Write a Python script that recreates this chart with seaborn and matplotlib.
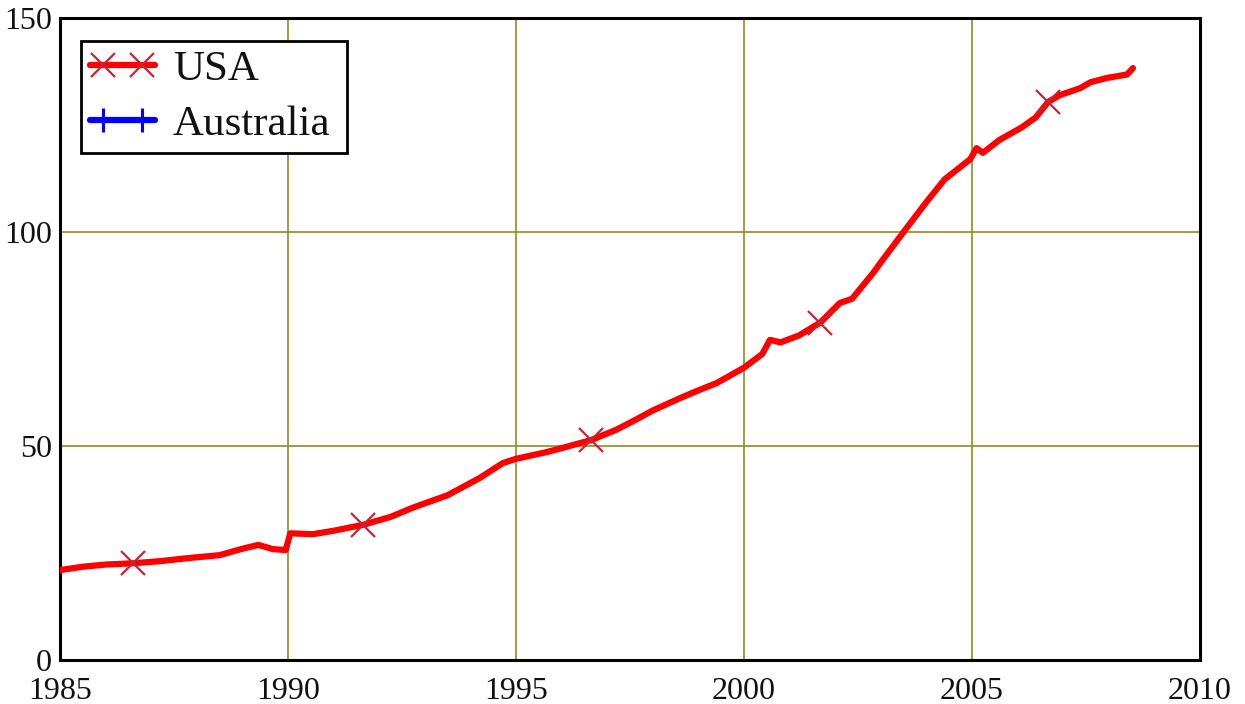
import numpy as np
import pandas as pd
import matplotlib
matplotlib.use("Agg")
import matplotlib.pyplot as plt
from matplotlib.legend_handler import HandlerLine2DCompound
import seaborn as sns

# Index series (USA), read at irregular dates
usa_year = [1985.0, 1985.5, 1986.0, 1986.6, 1987.2, 1987.8, 1988.5, 1989.0, 1989.35,
            1989.67, 1989.95, 1990.05, 1990.55, 1991.0, 1991.65, 1992.24, 1992.74,
            1993.0, 1993.5, 1994.2, 1994.71, 1995.0, 1995.68, 1996.0, 1996.65, 1997.2,
            1997.6, 1998.0, 1998.6, 1999.0, 1999.4, 2000.0, 2000.4, 2000.57, 2000.8,
            2001.2, 2001.67, 2002.1, 2002.37, 2002.83, 2003.0, 2003.5, 2004.0, 2004.4,
            2004.96, 2005.1, 2005.24, 2005.6, 2006.1, 2006.4, 2006.67, 2006.93,
            2007.37, 2007.6, 2007.96, 2008.4, 2008.53]
usa_value = [21.0, 21.8, 22.3, 22.6, 23.1, 23.8, 24.5, 26.0, 26.9,
             25.9, 25.7, 29.6, 29.4, 30.2, 31.6, 33.4, 35.6,
             36.6, 38.5, 42.5, 46.0, 47.0, 48.6, 49.5, 51.4, 53.8,
             56.0, 58.3, 61.2, 63.0, 64.7, 68.3, 71.5, 74.8, 74.2,
             75.8, 78.8, 83.4, 84.4, 90.4, 92.9, 100.0, 107.0, 112.3,
             117.0, 119.6, 118.5, 121.5, 124.5, 126.8, 130.4, 132.0,
             133.6, 135.0, 136.0, 136.8, 138.3]
usa_marker_years = [1986.6, 1991.65, 1996.65, 2001.67, 2006.67]

# Australia series has no points inside the plotted window
aus_year = []
aus_value = []

x_ticks = [1985, 1990, 1995, 2000, 2005, 2010]
y_ticks = [0, 50, 100, 150]


class InsetMarkerHandler(HandlerLine2DCompound):
    """Legend line spanning the full handle, with two markers set inward."""

    def get_xdata(self, legend, xdescent, ydescent, width, height, fontsize):
        xdata = np.array([-xdescent, -xdescent + width])
        inset = 0.2 * width
        xmark = np.linspace(-xdescent + inset, -xdescent + width - inset, 2)
        return xdata, xmark

    def create_artists(self, *args, **kwargs):
        artists = super().create_artists(*args, **kwargs)
        for a in artists:
            a.set_markevery(None)
        return artists


sns.set_style("white")
plt.rcParams["font.family"] = ["Liberation Serif", "DejaVu Serif"]

fig = plt.figure(figsize=(12.45, 7.04), dpi=100)
ax = fig.add_axes([60 / 1245, 1 - 660 / 704, 1140 / 1245, 642 / 704])

df = pd.DataFrame({"year": usa_year, "value": usa_value})
mark_idx = [int(np.argmin(np.abs(np.array(usa_year) - m))) for m in usa_marker_years]

sns.lineplot(data=df, x="year", y="value", ax=ax, color="#ff0000", linewidth=4.5,
             marker="x", markevery=mark_idx, markersize=17, markeredgewidth=1.6,
             markeredgecolor="#cc2233", sort=False, label="USA", zorder=3,
             solid_capstyle="round", solid_joinstyle="round")
ax.plot(aus_year, aus_value, color="#0000ff", linewidth=4.5, marker="+",
        markersize=17, markeredgewidth=2.2, label="Australia", zorder=3,
        solid_capstyle="round")

ax.set_xlim(1985, 2010)
ax.set_ylim(0, 150)
ax.set_xticks(x_ticks)
ax.set_yticks(y_ticks)
ax.set_xlabel("")
ax.set_ylabel("")
ax.grid(True, color="#8c8c1e", linewidth=1.2)
ax.set_axisbelow(True)
for s in ax.spines.values():
    s.set_color("black")
    s.set_linewidth(2.2)
ax.tick_params(axis="both", length=0, labelsize=23, colors="#111111")
ax.tick_params(axis="x", pad=12)
ax.tick_params(axis="y", pad=6)

# Legend box: left edge 0.0184, top 0.964, width 0.2333 (axes fraction)
leg = ax.legend(loc="upper left", bbox_to_anchor=(0.0184, 0.5, 0.2333, 0.464),
                mode="expand", borderaxespad=0,
                fancybox=False, framealpha=1, edgecolor="black", fontsize=31,
                handlelength=1.51, handletextpad=0.42, borderpad=0.2,
                labelspacing=0.38, handler_map={plt.Line2D: InsetMarkerHandler()})
leg.get_frame().set_linewidth(2.0)
for t in leg.get_texts():
    t.set_color("#111111")

fig.savefig("out.png", dpi=100)
